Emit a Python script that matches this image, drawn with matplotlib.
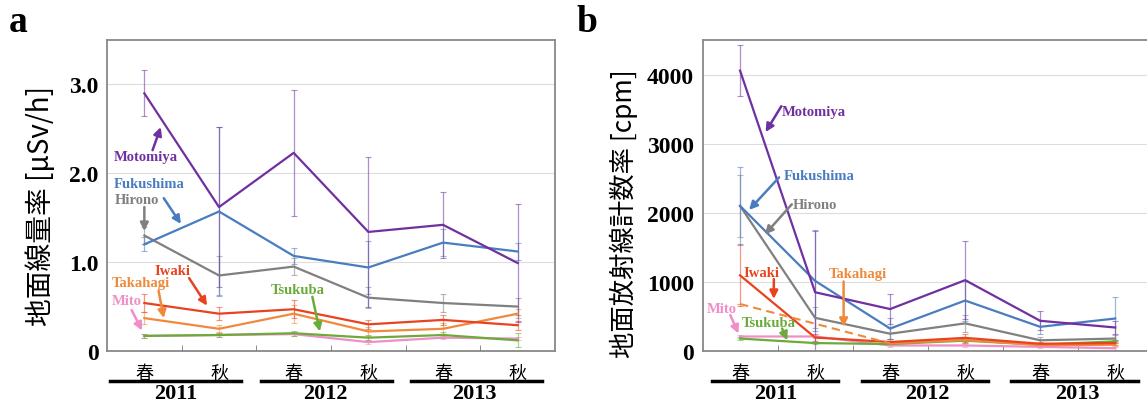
#!/usr/bin/env python
import numpy as np
import matplotlib
matplotlib.use('Agg')
import matplotlib.pyplot as plt
import matplotlib.transforms as mtransforms

# Seasons / years
seasons = ['春', '秋', '春', '秋', '春', '秋']
years = ['2011', '2012', '2013']

# Panel a: ground dose rate [uSv/h]
a_motomiya = [2.90, 1.62, 2.23, 1.34, 1.42, 0.99]
a_motomiya_err = [0.26, 0.90, 0.71, 0.84, 0.37, 0.66]
a_fukushima = [1.20, 1.57, 1.07, 0.94, 1.22, 1.12]
a_fukushima_err = [0.08, 0.95, 0.09, 0.30, 0.15, 0.10]
a_hirono = [1.30, 0.85, 0.95, 0.60, 0.54, 0.50]
a_hirono_err = [0.10, 0.22, 0.10, 0.12, 0.10, 0.10]
a_iwaki = [0.54, 0.42, 0.47, 0.30, 0.35, 0.29]
a_iwaki_err = [0.10, 0.07, 0.10, 0.05, 0.06, 0.05]
a_takahagi = [0.37, 0.25, 0.42, 0.22, 0.25, 0.42]
a_takahagi_err = [0.07, 0.04, 0.10, 0.05, 0.06, 0.05]
a_tsukuba = [0.17, 0.18, 0.20, 0.15, 0.18, 0.12]
a_tsukuba_err = [0.02, 0.02, 0.03, 0.03, 0.03, 0.08]
a_mito = [0.17, 0.18, 0.19, 0.10, 0.15, 0.14]
a_mito_err = [0.02, 0.02, 0.02, 0.02, 0.02, 0.02]

# Panel b: survey meter count rate [cpm]
b_motomiya = [4057, 850, 607, 1025, 437, 340]
b_motomiya_err = [365, 890, 220, 565, 140, 100]
b_fukushima = [2100, 1015, 325, 730, 350, 470]
b_fukushima_err = [560, 730, 150, 300, 100, 310]
b_hirono = [2100, 480, 250, 400, 155, 180]
b_hirono_err = [450, 150, 80, 120, 50, 50]
b_iwaki = [1095, 195, 130, 190, 105, 115]
b_iwaki_err = [450, 50, 40, 60, 30, 30]
b_takahagi = [680, np.nan, 110, 160, 85, 90]
b_takahagi_err = [0, 0, 30, 40, 20, 20]
b_tsukuba = [180, 115, 100, 150, 90, 140]
b_tsukuba_err = [20, 20, 20, 30, 20, 20]
b_mito = [210, 210, 80, 80, 60, 40]
b_mito_err = [20, 20, 20, 20, 20, 20]

colors = {
    'Motomiya': '#7030a0',
    'Fukushima': '#4a7cc0',
    'Hirono': '#808080',
    'Iwaki': '#e8431e',
    'Takahagi': '#ef8a3c',
    'Tsukuba': '#6aab3a',
    'Mito': '#f08ec8',
}

serif = 'Liberation Serif'
cjk = ['Noto Sans CJK JP', 'DejaVu Sans']

fig = plt.figure(figsize=(11.47, 4.06), dpi=100)
ax_a = fig.add_axes([0.0933, 0.133, 0.3906, 0.766])
ax_b = fig.add_axes([0.6125, 0.133, 0.3925, 0.766])

x = np.arange(6)


def draw_series(ax, series):
    for name, y, err in series:
        c = colors[name]
        y = np.asarray(y, dtype=float)
        ax.errorbar(x, y, yerr=err, fmt='none', ecolor=c, alpha=0.55,
                    elinewidth=0.9, capsize=2, capthick=0.8, zorder=2)
        ax.plot(x, y, color=c, lw=1.6, zorder=3)


def style_axes(ax, ylim, yticks, yticklabels, ylabel, ylabel_size,
               year_x, line_spans):
    ax.set_xlim(-0.5, 5.5)
    ax.set_ylim(*ylim)
    ax.set_yticks(yticks)
    ax.set_yticklabels(yticklabels, fontfamily=serif, fontweight='bold',
                       fontsize=17)
    ax.set_xticks(x)
    ax.set_xticklabels(seasons, fontfamily=cjk, fontsize=13)
    ax.set_xticks(np.arange(0.5, 5, 1), minor=True)
    ax.tick_params(axis='x', which='major', length=0, pad=9)
    ax.tick_params(axis='x', which='minor', direction='in', length=4,
                   color='#777777')
    ax.tick_params(axis='y', length=0, pad=6)
    ax.grid(axis='y', color='#dddddd', lw=0.8)
    ax.set_axisbelow(True)
    for s in ax.spines.values():
        s.set_color('#888888')
        s.set_linewidth(1.3)
    ax.set_ylabel(ylabel, fontfamily=cjk, fontsize=ylabel_size)
    trans = mtransforms.blended_transform_factory(ax.transData, ax.transAxes)
    for (x0, x1), xc, yr in zip(line_spans, year_x, years):
        ax.plot([x0, x1], [-0.097, -0.097], color='black', lw=2.5,
                transform=trans, clip_on=False)
        ax.text(xc, -0.168, yr, transform=trans, ha='center', va='bottom',
                fontfamily=serif, fontweight='bold', fontsize=16)


def label(ax, name, text_xy, tail, head):
    c = colors[name]
    ax.text(text_xy[0], text_xy[1], name, color=c, ha='center', va='center',
            fontfamily=serif, fontweight='bold', fontsize=10.5, zorder=5)
    ax.annotate('', xy=head, xytext=tail,
                arrowprops=dict(arrowstyle='-|>', color=c, lw=1.8,
                                mutation_scale=12, shrinkA=0, shrinkB=0),
                zorder=5)


# ---- panel a ----
draw_series(ax_a, [
    ('Mito', a_mito, a_mito_err),
    ('Tsukuba', a_tsukuba, a_tsukuba_err),
    ('Takahagi', a_takahagi, a_takahagi_err),
    ('Iwaki', a_iwaki, a_iwaki_err),
    ('Hirono', a_hirono, a_hirono_err),
    ('Fukushima', a_fukushima, a_fukushima_err),
    ('Motomiya', a_motomiya, a_motomiya_err),
])
style_axes(ax_a, (0, 3.5), [0, 1, 2, 3], ['0', '1.0', '2.0', '3.0'],
           '地面線量率 [μSv/h]', 20, [0.42, 2.42, 4.42],
           [(-0.46, 1.30), (1.56, 3.31), (3.57, 5.32)])
ax_a.yaxis.set_label_coords(-0.114, 0.47)

label(ax_a, 'Motomiya', (0.02, 2.19), (0.11, 2.26), (0.22, 2.52))
label(ax_a, 'Fukushima', (0.07, 1.88), (0.26, 1.72), (0.49, 1.43))
label(ax_a, 'Hirono', (-0.10, 1.70), (0.0, 1.62), (0.0, 1.35))
label(ax_a, 'Iwaki', (0.38, 0.91), (0.60, 0.82), (0.84, 0.51))
label(ax_a, 'Takahagi', (-0.05, 0.77), (0.19, 0.68), (0.26, 0.37))
label(ax_a, 'Mito', (-0.24, 0.57), (-0.17, 0.46), (-0.03, 0.23))
label(ax_a, 'Tsukuba', (2.05, 0.69), (2.25, 0.61), (2.35, 0.22))

# ---- panel b ----
draw_series(ax_b, [
    ('Mito', b_mito, b_mito_err),
    ('Tsukuba', b_tsukuba, b_tsukuba_err),
    ('Takahagi', b_takahagi, b_takahagi_err),
    ('Iwaki', b_iwaki, b_iwaki_err),
    ('Hirono', b_hirono, b_hirono_err),
    ('Fukushima', b_fukushima, b_fukushima_err),
    ('Motomiya', b_motomiya, b_motomiya_err),
])
# Takahagi has no autumn 2011 value: dashed bridge
ax_b.plot([0, 2], [b_takahagi[0], b_takahagi[2]], color=colors['Takahagi'],
          lw=1.5, ls=(0, (4, 2.5)), zorder=3)
style_axes(ax_b, (0, 4500), [0, 1000, 2000, 3000, 4000],
           ['0', '1000', '2000', '3000', '4000'],
           '地面放射線計数率 [cpm]', 19, [0.48, 2.49, 4.50],
           [(-0.38, 1.30), (1.62, 3.30), (3.61, 5.30)])
ax_b.yaxis.set_label_coords(-0.143, 0.445)

label(ax_b, 'Motomiya', (0.98, 3470), (0.55, 3542), (0.34, 3168))
label(ax_b, 'Fukushima', (1.06, 2536), (0.52, 2512), (0.12, 2041))
label(ax_b, 'Hirono', (1.00, 2123), (0.69, 2123), (0.33, 1686))
label(ax_b, 'Iwaki', (0.28, 1137), (0.45, 1040), (0.45, 753))
label(ax_b, 'Takahagi', (1.57, 1127), (1.38, 1006), (1.38, 350))
label(ax_b, 'Mito', (-0.25, 617), (-0.13, 520), (-0.02, 253))
label(ax_b, 'Tsukuba', (0.38, 408), (0.56, 325), (0.63, 155))

# panel letters
fig.text(0.008, 0.945, 'a', fontfamily=serif, fontweight='bold', fontsize=27,
         va='center')
fig.text(0.503, 0.945, 'b', fontfamily=serif, fontweight='bold', fontsize=27,
         va='center')

fig.savefig('out.png', dpi=100)
